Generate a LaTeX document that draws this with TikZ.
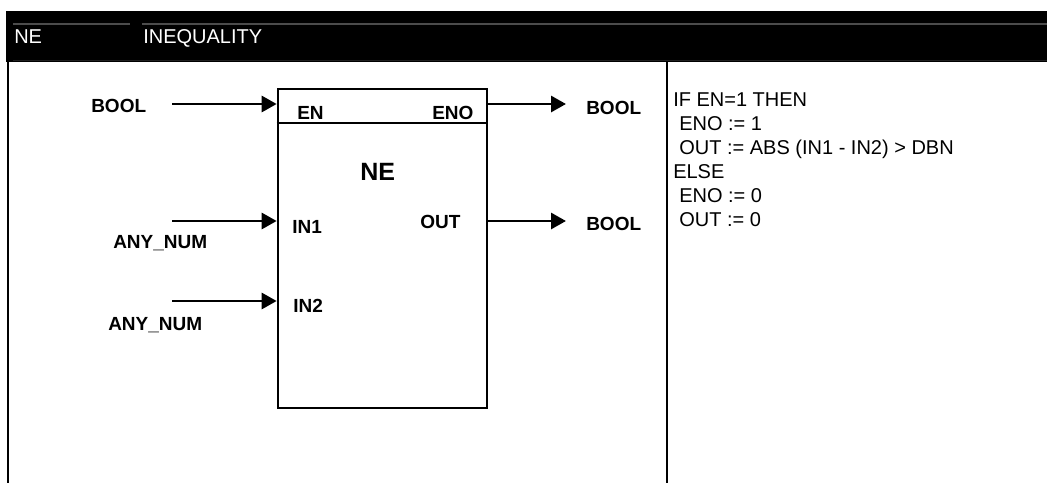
\documentclass[tikz,border=0pt]{standalone}
\usepackage{fontspec}
\setmainfont{Liberation Sans}
\usetikzlibrary{arrows.meta}
\begin{document}
\begin{tikzpicture}[x=0.75pt,y=-0.75pt,
  lbl/.style={inner sep=0pt,anchor=base west,font=\fontsize{14.25}{16}\selectfont\bfseries},
  hdr/.style={inner sep=0pt,anchor=base west,text=white,font=\fontsize{15}{18}\selectfont},
  prg/.style={inner sep=0pt,anchor=base west,font=\fontsize{15}{17}\selectfont},
  arr/.style={line width=2.2pt,-{Triangle[length=11.25pt,width=12pt]}},
  frame/.style={line width=1.5pt},
  blockbox/.style={draw,line width=2pt,minimum width=156.75pt,minimum height=239.25pt,inner sep=0pt}]
\useasboundingbox (0,0) rectangle (1047,483);
% header
\fill[black] (6,11) rectangle (1047,62);
\draw[gray!60!black,line width=0.8pt] (13,24) -- (130,24);
\draw[gray!60!black,line width=0.8pt] (142,24) -- (1047,24);
\draw[gray!25!black,line width=0.8pt] (13,60.5) -- (1047,60.5);
\node[hdr] (hne) at (14,43) {NE};
\node[hdr] (hineq) at (143,43) {INEQUALITY};
% frame lines
\draw[frame] (8,62) -- (8,483);
\draw[frame] (667,62) -- (667,483);
% block
\node[blockbox] (blk) at (382.5,248.5) {};
\coordinate (dl) at (278,123);
\coordinate (dr) at (487,123);
\draw[line width=2pt] (dl -| blk.west) -- (dr -| blk.east);
\node[lbl] (en) at (297,119) {EN};
\node[lbl] (eno) at (432,119) {ENO};
\node[lbl,font=\fontsize{18.75}{20}\selectfont\bfseries] (ne) at (360,180) {NE};
\node[lbl] (in1) at (292,233) {IN1};
\node[lbl] (out) at (420,228) {OUT};
\node[lbl] (in2) at (293,312) {IN2};
% inputs
\coordinate (sEN) at (172,104);
\coordinate (sIN1) at (172,221);
\coordinate (sIN2) at (172,301);
\draw[arr] (sEN) -- (sEN -| blk.west);
\draw[arr] (sIN1) -- (sIN1 -| blk.west);
\draw[arr] (sIN2) -- (sIN2 -| blk.west);
\node[lbl] (tbool1) at (91,112) {BOOL};
\node[lbl] (tany1) at (113,248) {ANY\_NUM};
\node[lbl] (tany2) at (108,330) {ANY\_NUM};
% outputs
\coordinate (eENO) at (566,104);
\coordinate (eOUT) at (566,221);
\draw[arr] (eENO -| blk.east) -- (eENO);
\draw[arr] (eOUT -| blk.east) -- (eOUT);
\node[lbl] (tbool2) at (586,114) {BOOL};
\node[lbl] (tbool3) at (586,230) {BOOL};
% program text
\node[prg] (p1) at (673,106) {IF EN=1 THEN};
\node[prg] (p2) at (679,130) {ENO := 1};
\node[prg] (p3) at (679,154) {OUT := ABS (IN1 - IN2) > DBN};
\node[prg] (p4) at (673,178) {ELSE};
\node[prg] (p5) at (679,202) {ENO := 0};
\node[prg] (p6) at (679,226) {OUT := 0};
\end{tikzpicture}
\end{document}
